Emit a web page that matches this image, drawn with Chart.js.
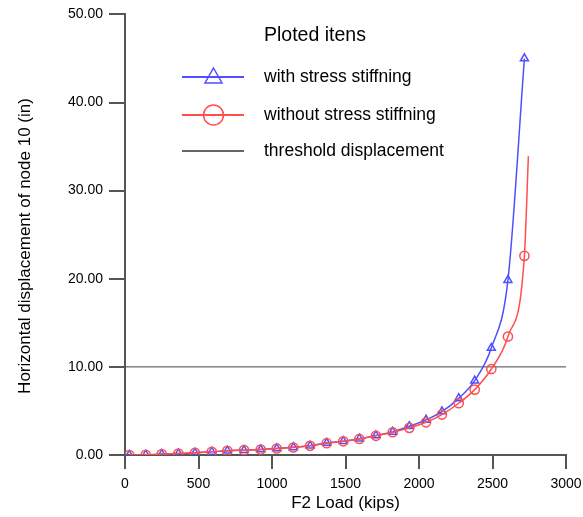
<!DOCTYPE html>
<html>
<head>
<meta charset="utf-8">
<script src="https://cdn.jsdelivr.net/npm/chart.js@4.4.1/dist/chart.umd.min.js"></script>
<style>
  html, body { margin: 0; padding: 0; background: #fff; }
  #wrap { width: 583px; height: 517px; }
</style>
</head>
<body>
<div id="wrap"><canvas id="chart" width="583" height="517"></canvas></div>
<script>
// F2 load (kips) at each solution step
const loads = [29, 141, 250, 363, 476, 590, 696, 810, 923, 1032, 1145, 1259, 1372,
               1485, 1594, 1707, 1821, 1934, 2048, 2156, 2270, 2379, 2492, 2605, 2717];
// horizontal displacement of node 10 (in)
const withStiffening = [0.00, 0.02, 0.10, 0.17, 0.25, 0.36, 0.48, 0.55, 0.62, 0.75, 0.87, 1.05, 1.36,
                        1.57, 1.84, 2.22, 2.62, 3.26, 3.99, 4.93, 6.43, 8.44, 12.14, 19.85, 45.00];
const withoutStiffening = [0.00, 0.02, 0.10, 0.17, 0.25, 0.36, 0.48, 0.55, 0.62, 0.74, 0.85, 1.04, 1.34,
                           1.55, 1.82, 2.18, 2.58, 3.08, 3.71, 4.59, 5.87, 7.42, 9.76, 13.45, 22.60];
// red curve keeps going past the last marker
const tailLoad = 2744;
const tailValue = 33.9;
const threshold = 10;

const xTicks = [0, 500, 1000, 1500, 2000, 2500, 3000];

const BLUE = "#4f4fff";
const RED = "#ff4f4f";
const AXIS = "#555";
const FONT = '"Liberation Sans", Arial, sans-serif';

const redPoints = loads.map((x, i) => ({ x, y: withoutStiffening[i] }));
redPoints.push({ x: tailLoad, y: tailValue });
const redRadius = redPoints.map((p, i) => i < loads.length ? 4.6 : 0);

const legendPlugin = {
    id: "plotLegend",
    afterDraw(chart) {
        const ctx = chart.ctx;
        ctx.save();
        ctx.fillStyle = "#000";
        ctx.textBaseline = "middle";
        ctx.textAlign = "left";
        ctx.font = "19.5px " + FONT;
        ctx.fillText("Ploted itens", 264, 36);

        const rows = [
            { y: 77, color: BLUE, text: "with stress stiffning", mark: "tri" },
            { y: 115, color: RED, text: "without stress stiffning", mark: "circ" },
            { y: 151, color: "#666", text: "threshold displacement", mark: null }
        ];
        ctx.font = "17.5px " + FONT;
        rows.forEach(r => {
            ctx.strokeStyle = r.color;
            ctx.lineWidth = 2;
            ctx.beginPath();
            ctx.moveTo(182, r.y);
            ctx.lineTo(244, r.y);
            ctx.stroke();
            ctx.lineWidth = 1.5;
            if (r.mark === "tri") {
                ctx.beginPath();
                ctx.moveTo(213.5, r.y - 9);
                ctx.lineTo(222, r.y + 6);
                ctx.lineTo(205, r.y + 6);
                ctx.closePath();
                ctx.stroke();
            } else if (r.mark === "circ") {
                ctx.beginPath();
                ctx.arc(213.5, r.y, 10, 0, Math.PI * 2);
                ctx.stroke();
            }
            ctx.fillText(r.text, 264, r.y);
        });

        // vertical axis title
        ctx.translate(30, 246);
        ctx.rotate(-Math.PI / 2);
        ctx.textAlign = "center";
        ctx.textBaseline = "alphabetic";
        ctx.font = "17px " + FONT;
        ctx.fillText("Horizontal displacement of node 10 (in)", 0, 0);
        ctx.restore();
    }
};

new Chart(document.getElementById("chart").getContext("2d"), {
    type: "line",
    data: {
        datasets: [
            {
                label: "without stress stiffning",
                data: redPoints,
                borderColor: RED,
                borderWidth: 1.5,
                pointStyle: "circle",
                pointRadius: redRadius,
                pointBorderColor: RED,
                pointBackgroundColor: "rgba(0,0,0,0)",
                pointBorderWidth: 1.5,
                cubicInterpolationMode: "monotone"
            },
            {
                label: "with stress stiffning",
                data: loads.map((x, i) => ({ x, y: withStiffening[i] })),
                borderColor: BLUE,
                borderWidth: 1.5,
                pointStyle: "triangle",
                pointRadius: 4.6,
                pointBorderColor: BLUE,
                pointBackgroundColor: "rgba(0,0,0,0)",
                pointBorderWidth: 1.5,
                cubicInterpolationMode: "monotone"
            },
            {
                label: "threshold displacement",
                data: [{ x: 0, y: threshold }, { x: 3000, y: threshold }],
                borderColor: "#444",
                borderWidth: 1,
                pointRadius: 0
            }
        ]
    },
    options: {
        responsive: false,
        animation: false,
        layout: { padding: { top: 13, right: 17, left: 0, bottom: 0 } },
        plugins: {
            legend: { display: false },
            tooltip: { enabled: false }
        },
        scales: {
            x: {
                type: "linear",
                min: 0,
                max: 3000,
                afterBuildTicks: s => { s.ticks = xTicks.map(v => ({ value: v })); },
                afterFit: s => { s.height = 62; s.paddingLeft = 0; s.paddingRight = 0; },
                grid: { drawOnChartArea: false, tickLength: 14, color: AXIS, lineWidth: 2 },
                border: { color: AXIS, width: 2 },
                ticks: {
                    color: "#000",
                    padding: 7,
                    maxRotation: 0,
                    font: { family: FONT, size: 14 },
                    callback: v => String(v)
                },
                title: {
                    display: true,
                    text: "F2 Load (kips)",
                    color: "#000",
                    padding: { top: 0, bottom: 3 },
                    font: { family: FONT, size: 17 }
                }
            },
            y: {
                type: "linear",
                min: 0,
                max: 50,
                afterFit: s => { s.width = 125; },
                grid: { drawOnChartArea: false, tickLength: 16, color: AXIS, lineWidth: 2 },
                border: { color: AXIS, width: 2 },
                ticks: {
                    stepSize: 10,
                    color: "#000",
                    padding: 6,
                    font: { family: FONT, size: 14 },
                    callback: v => v.toFixed(2)
                }
            }
        }
    },
    plugins: [legendPlugin]
});
</script>
</body>
</html>
